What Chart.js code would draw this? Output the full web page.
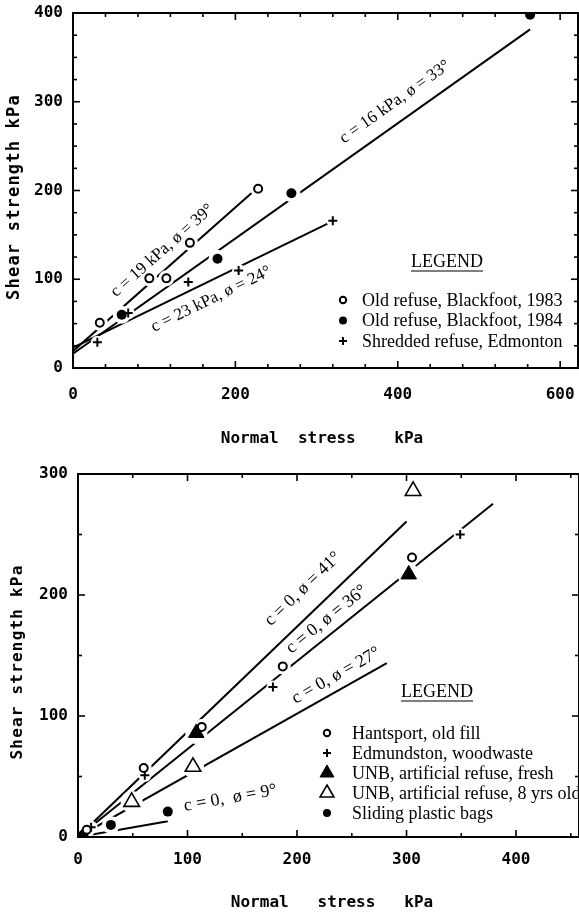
<!DOCTYPE html>
<html>
<head>
<meta charset="utf-8">
<script src="https://cdn.jsdelivr.net/npm/chart.js@4.4.1/dist/chart.umd.min.js"></script>
<style>
  html, body { margin: 0; padding: 0; background: #fff; }
  #page { position: relative; width: 579px; height: 914px; overflow: hidden; background: #fff; }
  #page canvas { position: absolute; left: 0; }
  #upper { top: 0; }
  #lower { top: 460px; }
</style>
</head>
<body>
<div id="page">
  <canvas id="upper" width="579" height="460"></canvas>
  <canvas id="lower" width="579" height="454"></canvas>
</div>
<script>
// ---------- Upper panel: Blackfoot / Edmonton refuse ----------
const upperXLabels = [0, 200, 400, 600];
const upperYLabels = [0, 100, 200, 300, 400];
const upperNames = ['Old refuse, Blackfoot, 1983', 'Old refuse, Blackfoot, 1984', 'Shredded refuse, Edmonton'];
const blackfoot1983 = [[33, 51], [94, 101], [115, 101], [144, 141], [228, 202]];
const blackfoot1984 = [[60, 60], [178, 123], [269, 197], [563, 398]];
const edmonton = [[30, 29], [68, 62], [142, 97], [204, 110], [320, 166]];
// strength envelopes: cohesion (kPa), friction angle (deg), last normal stress reached
const upperCohesion = [19, 16, 23];
const upperFriction = [39, 33, 24];
const upperReach = [228, 563, 320];

// ---------- Lower panel: Maritime sites ----------
const lowerXLabels = [0, 100, 200, 300, 400];
const lowerYLabels = [0, 100, 200, 300];
const lowerNames = ['Hantsport, old fill', 'Edmundston, woodwaste', 'UNB, artificial refuse, fresh',
                    'UNB, artificial refuse, 8 yrs old', 'Sliding plastic bags'];
const hantsport = [[8, 6], [60, 57], [113, 91], [187, 141], [305, 231]];
const edmundston = [[12, 8], [61, 51], [178, 124], [349, 250]];
const unbFresh = [[108, 86], [302, 217]];
const unbOld = [[49, 29], [105, 58], [306, 286]];
const plasticBags = [[5, 2], [30, 10], [82, 21]];
const lowerCohesion = [0, 0, 0, 0];
const lowerFriction = [41, 36, 27, 9];
const lowerReach = [300, 379, 282, 82];

const DEG = Math.PI / 180;
const MONO = '"DejaVu Sans Mono", monospace';
const AXIS_FONT = 'bold 16px ' + MONO;
const SERIF = '"Liberation Serif", "Times New Roman", serif';

function pts(arr) { return arr.map(([x, y]) => ({ x, y })); }
function range(a, b, step) { const r = []; for (let v = a; v <= b + 1e-9; v += step) r.push(v); return r; }

// straight Mohr-Coulomb envelope tau = c + sigma tan(phi)
function envelope(c, phi, reach) {
  const t = Math.tan(phi * DEG);
  return [{ x: 0, y: c }, { x: reach, y: c + t * reach }];
}

// marker looks
const STYLE = {
  openCircle:  { pointStyle: 'circle',   radius: 4,   fill: '#fff', width: 2,   halo: 4 },
  dot:         { pointStyle: 'circle',   radius: 5,   fill: '#000', width: 0,   halo: 4 },
  plus:        { pointStyle: 'cross',    radius: 4.5, fill: '#000', width: 2,   halo: 2 },
  solidTri:    { pointStyle: 'triangle', radius: 9,   fill: '#000', width: 1,   halo: 2 },
  openTri:     { pointStyle: 'triangle', radius: 9,   fill: '#fff', width: 1.6, halo: 2 }
};

function markerSets(data, st) {
  return [
    { data: pts(data), showLine: false, order: 2, pointStyle: 'circle',
      pointRadius: st.radius + st.halo, pointBackgroundColor: '#fff', pointBorderWidth: 0 },
    { data: pts(data), showLine: false, order: 1, pointStyle: st.pointStyle,
      pointRadius: st.radius, pointBackgroundColor: st.fill, pointBorderColor: '#000',
      pointBorderWidth: st.width }
  ];
}
function envelopeSet(c, phi, reach) {
  return { data: envelope(c, phi, reach), showLine: true, borderColor: '#000', borderWidth: 2,
           pointRadius: 0, order: 3, tension: 0 };
}

// frame with inward tick marks on all four sides, plus the numbered x ticks
const framePlugin = {
  id: 'frame',
  afterDatasetsDraw(chart, args, o) {
    const { ctx, chartArea: a, scales: { x, y } } = chart;
    ctx.save();
    ctx.strokeStyle = '#000';
    ctx.lineWidth = 2;
    ctx.strokeRect(a.left, a.top, a.right - a.left, a.bottom - a.top);
    ctx.lineWidth = 1.6;
    const seg = (x1, y1, x2, y2) => { ctx.beginPath(); ctx.moveTo(x1, y1); ctx.lineTo(x2, y2); ctx.stroke(); };
    x.ticks.forEach(t => {
      const p = x.getPixelForValue(t.value);
      const L = o.xMajor.includes(t.value) ? 7 : 4;
      seg(p, a.bottom + 1, p, a.bottom - L);
      seg(p, a.top - 1, p, a.top + L);
    });
    y.ticks.forEach(t => {
      const p = y.getPixelForValue(t.value);
      const L = o.yMajor.includes(t.value) ? 7 : 4;
      seg(a.left - 1, p, a.left + L, p);
      seg(a.right + 1, p, a.right - L, p);
    });
    ctx.fillStyle = '#000';
    ctx.font = 'bold 16px ' + MONO;
    ctx.textAlign = 'center';
    ctx.textBaseline = 'middle';
    o.xMajor.forEach(v => ctx.fillText(String(v), x.getPixelForValue(v), a.bottom + o.xLabelGap));
    ctx.restore();
  }
};

// text set along each envelope
const envelopeLabelPlugin = {
  id: 'envelopeLabels',
  afterDatasetsDraw(chart, args, o) {
    const { ctx, scales: { x, y } } = chart;
    ctx.save();
    ctx.fillStyle = '#000';
    ctx.font = o.font;
    ctx.textAlign = 'center';
    ctx.textBaseline = 'middle';
    o.items.forEach(it => {
      const t = Math.tan(it.phi * DEG);
      const px = v => x.getPixelForValue(v), py = v => y.getPixelForValue(it.c + t * v);
      const ang = Math.atan2(py(it.at + 10) - py(it.at - 10), px(it.at + 10) - px(it.at - 10));
      ctx.save();
      ctx.translate(px(it.at), py(it.at));
      ctx.rotate(ang);
      ctx.fillText(it.text, 0, -it.off);
      ctx.restore();
    });
    ctx.restore();
  }
};

// legend with underlined heading
const panelLegendPlugin = {
  id: 'panelLegend',
  afterDatasetsDraw(chart, args, o) {
    const ctx = chart.ctx;
    ctx.save();
    ctx.fillStyle = '#000';
    ctx.strokeStyle = '#000';
    ctx.font = o.titleFont;
    ctx.textAlign = 'center';
    ctx.textBaseline = 'middle';
    ctx.fillText(o.title, o.titleX, o.titleY);
    const w = ctx.measureText(o.title).width;
    ctx.lineWidth = 1.2;
    ctx.beginPath();
    ctx.moveTo(o.titleX - w / 2, o.titleY + 9);
    ctx.lineTo(o.titleX + w / 2, o.titleY + 9);
    ctx.stroke();
    ctx.font = o.font;
    ctx.textAlign = 'left';
    o.entries.forEach((e, i) => {
      const yy = o.y0 + i * o.dy;
      const st = e.style;
      ctx.fillStyle = st.fill;
      ctx.strokeStyle = '#000';
      ctx.lineWidth = st.width;
      Chart.helpers.drawPoint(ctx, { pointStyle: st.pointStyle, radius: e.r, borderWidth: st.width, rotation: 0 }, o.symX, yy);
      ctx.fillStyle = '#000';
      ctx.fillText(e.label, o.textX, yy + 1);
    });
    ctx.restore();
  }
};

// axis titles in the typewriter face
const axisTitlePlugin = {
  id: 'axisTitles',
  afterDraw(chart, args, o) {
    const ctx = chart.ctx;
    ctx.save();
    ctx.fillStyle = '#000';
    ctx.textAlign = 'center';
    ctx.textBaseline = 'middle';
    ctx.font = o.xFont;
    ctx.fillText(o.xText, o.xPos[0], o.xPos[1]);
    ctx.font = o.yFont;
    if ('letterSpacing' in ctx) ctx.letterSpacing = o.ySpacing;
    ctx.translate(o.yPos[0], o.yPos[1]);
    ctx.rotate(-Math.PI / 2);
    ctx.fillText(o.yText, 0, 0);
    ctx.restore();
  }
};

function noPad(s) { s.paddingLeft = 0; s.paddingRight = 0; s.paddingTop = 0; s.paddingBottom = 0; }

function axes(cfg) {
  return {
    x: {
      type: 'linear', min: 0, max: cfg.xMax,
      afterBuildTicks: s => { s.ticks = range(0, cfg.xLast, cfg.xStep).map(v => ({ value: v })); },
      afterFit: s => { s.height = cfg.xHeight; noPad(s); },
      ticks: { display: false },
      grid: { display: false, drawTicks: false }, border: { display: false }
    },
    y: {
      type: 'linear', min: 0, max: cfg.yMax,
      afterBuildTicks: s => { s.ticks = range(0, cfg.yMax, cfg.yStep).map(v => ({ value: v })); },
      afterFit: s => { s.width = cfg.yWidth; noPad(s); },
      ticks: { autoSkip: false, color: '#000', font: { family: MONO, size: 16, weight: 'bold' },
               padding: 10, callback: v => cfg.yLabels.includes(v) ? String(v) : '' },
      grid: { display: false, drawTicks: false }, border: { display: false }
    }
  };
}

const common = {
  responsive: false,
  animation: false,
  events: [],
};

// ---------- upper chart ----------
const upperSets = [
  ...upperCohesion.map((c, i) => envelopeSet(c, upperFriction[i], upperReach[i])),
  ...markerSets(blackfoot1983, STYLE.openCircle),
  ...markerSets(blackfoot1984, STYLE.dot),
  ...markerSets(edmonton, STYLE.plus)
];

new Chart(document.getElementById('upper'), {
  type: 'scatter',
  data: { datasets: upperSets },
  options: {
    ...common,
    layout: { autoPadding: false, padding: { top: 13, right: 1, left: 0, bottom: 0 } },
    scales: axes({ xMax: 622, xLast: 600, xStep: 40, xHeight: 92,
                   yMax: 400, yStep: 25, yLabels: upperYLabels, yWidth: 73 }),
    plugins: {
      legend: { display: false }, tooltip: { enabled: false },
      frame: { xMajor: upperXLabels, yMajor: upperYLabels, xLabelGap: 27 },
      envelopeLabels: {
        font: '17px ' + SERIF,
        items: [
          { c: upperCohesion[0], phi: upperFriction[0], at: 123, off: 16, text: `c = ${upperCohesion[0]} kPa, ø = ${upperFriction[0]}°` },
          { c: upperCohesion[1], phi: upperFriction[1], at: 410, off: 19, text: `c = ${upperCohesion[1]} kPa, ø = ${upperFriction[1]}°` },
          { c: upperCohesion[2], phi: upperFriction[2], at: 161, off: -17, text: `c = ${upperCohesion[2]} kPa, ø = ${upperFriction[2]}°` }
        ]
      },
      panelLegend: {
        title: 'LEGEND', titleFont: '18px ' + SERIF, titleX: 447, titleY: 262,
        font: '18px ' + SERIF, symX: 343, textX: 362, y0: 300, dy: 20.5,
        entries: [
          { label: upperNames[0], style: STYLE.openCircle, r: 3.2 },
          { label: upperNames[1], style: STYLE.dot, r: 4 },
          { label: upperNames[2], style: STYLE.plus, r: 4 }
        ]
      },
      axisTitles: {
        xText: 'Normal  stress    kPa', xFont: AXIS_FONT, xPos: [322, 439],
        yText: 'Shear strength kPa', yFont: 'bold 17px ' + MONO, ySpacing: '1.2px', yPos: [15, 197]
      }
    }
  },
  plugins: [framePlugin, envelopeLabelPlugin, panelLegendPlugin, axisTitlePlugin]
});

// ---------- lower chart ----------
const lowerSets = [
  ...lowerCohesion.map((c, i) => envelopeSet(c, lowerFriction[i], lowerReach[i])),
  ...markerSets(unbOld, STYLE.openTri),
  ...markerSets(unbFresh, STYLE.solidTri),
  ...markerSets(hantsport, STYLE.openCircle),
  ...markerSets(edmundston, STYLE.plus),
  ...markerSets(plasticBags, STYLE.dot)
];

new Chart(document.getElementById('lower'), {
  type: 'scatter',
  data: { datasets: lowerSets },
  options: {
    ...common,
    layout: { autoPadding: false, padding: { top: 14, right: 0, left: 0, bottom: 0 } },
    scales: axes({ xMax: 457.5, xLast: 450, xStep: 50, xHeight: 77,
                   yMax: 300, yStep: 50, yLabels: lowerYLabels, yWidth: 78 }),
    plugins: {
      legend: { display: false }, tooltip: { enabled: false },
      frame: { xMajor: lowerXLabels, yMajor: lowerYLabels, xLabelGap: 23 },
      envelopeLabels: {
        font: '18px ' + SERIF,
        items: [
          { c: 0, phi: lowerFriction[0], at: 220, off: 23, text: `c = 0, ø = ${lowerFriction[0]}°` },
          { c: 0, phi: lowerFriction[1], at: 235, off: 14, text: `c = 0, ø = ${lowerFriction[1]}°` },
          { c: 0, phi: lowerFriction[2], at: 242, off: 14, text: `c = 0, ø = ${lowerFriction[2]}°` },
          { c: 0, phi: lowerFriction[3], at: 141, off: 12, text: `c = 0,  ø = ${lowerFriction[3]}°` }
        ]
      },
      panelLegend: {
        title: 'LEGEND', titleFont: '18px ' + SERIF, titleX: 437, titleY: 232,
        font: '18px ' + SERIF, symX: 327, textX: 352, y0: 273, dy: 20,
        entries: [
          { label: lowerNames[0], style: STYLE.openCircle, r: 3.2 },
          { label: lowerNames[1], style: STYLE.plus, r: 4 },
          { label: lowerNames[2], style: STYLE.solidTri, r: 8 },
          { label: lowerNames[3], style: STYLE.openTri, r: 8 },
          { label: lowerNames[4], style: STYLE.dot, r: 4 }
        ]
      },
      axisTitles: {
        xText: 'Normal   stress   kPa', xFont: AXIS_FONT, xPos: [332, 443],
        yText: 'Shear strength kPa', yFont: 'bold 16px ' + MONO, ySpacing: '1.2px', yPos: [18, 202]
      }
    }
  },
  plugins: [framePlugin, envelopeLabelPlugin, panelLegendPlugin, axisTitlePlugin]
});
</script>
</body>
</html>
